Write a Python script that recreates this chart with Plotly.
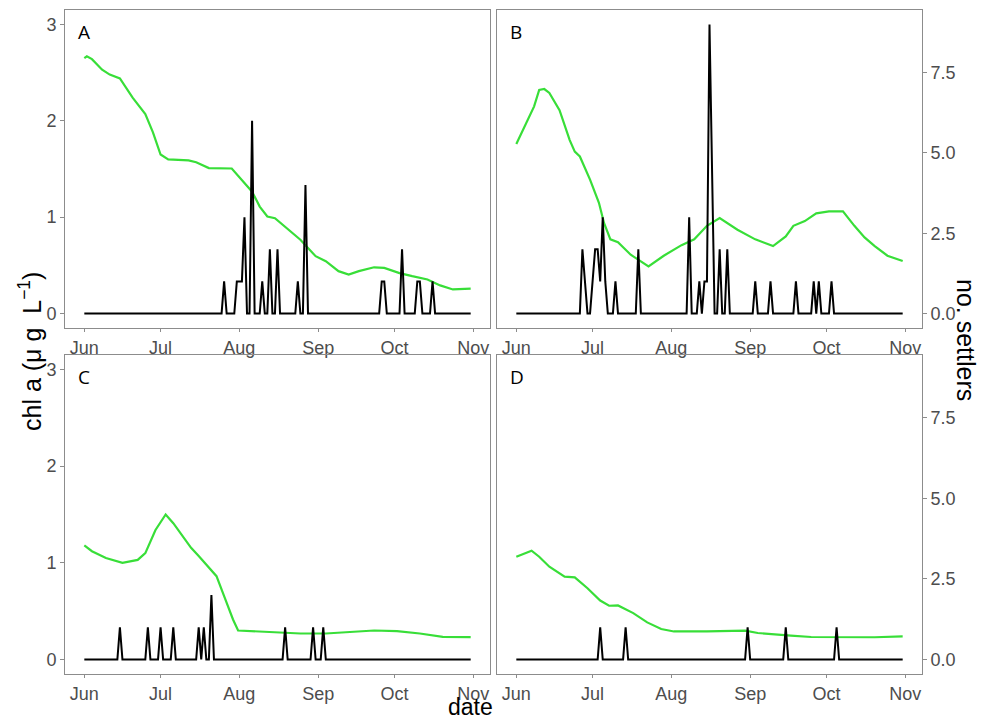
import pandas as pd
import plotly.graph_objects as go

# ---------------- data (day offset from 1 June) ----------------
BASE = pd.Timestamp("2017-06-01")
n_days = 153  # 1 Jun .. 31 Oct

chlA_day = [0, 1, 3, 7, 10, 14, 19, 24, 27, 30, 33, 41, 44, 49, 58, 62, 66, 69, 72, 75, 79, 85, 91, 95, 100, 104, 108, 114, 118, 124, 129, 135, 140, 145, 152]
chlA_val = [2.65, 2.67, 2.64, 2.53, 2.48, 2.44, 2.24, 2.07, 1.88, 1.65, 1.60, 1.59, 1.57, 1.51, 1.505, 1.385, 1.265, 1.11, 1.007, 0.99, 0.90, 0.766, 0.595, 0.543, 0.44, 0.405, 0.44, 0.48, 0.474, 0.42, 0.388, 0.354, 0.292, 0.25, 0.258]

chlB_day = [0, 4, 7, 9, 11, 13, 17, 21, 23, 25, 29, 32.5, 34.5, 37, 40, 45, 52, 58, 65, 70, 75, 80, 87, 94, 101, 106, 109, 113.5, 118, 123, 128.5, 133, 137, 141, 146, 152]
chlB_val = [1.76, 1.98, 2.15, 2.32, 2.33, 2.29, 2.11, 1.80, 1.68, 1.63, 1.39, 1.15, 0.94, 0.77, 0.74, 0.61, 0.49, 0.60, 0.71, 0.77, 0.91, 0.99, 0.87, 0.77, 0.70, 0.80, 0.91, 0.96, 1.04, 1.06, 1.06, 0.91, 0.79, 0.70, 0.60, 0.545]

chlC_day = [0, 3, 8.5, 15, 21, 24, 28, 32, 35, 39, 42, 45, 48.5, 52, 55, 58.5, 60.5, 66, 75, 85, 95, 106, 114, 123, 132, 141, 152]
chlC_val = [1.18, 1.12, 1.05, 1.00, 1.03, 1.10, 1.34, 1.50, 1.41, 1.26, 1.155, 1.07, 0.966, 0.862, 0.655, 0.414, 0.30, 0.293, 0.276, 0.269, 0.269, 0.286, 0.30, 0.293, 0.269, 0.234, 0.231]

chlD_day = [0, 3, 6, 9, 13, 19, 23, 28, 33, 36.5, 40, 46, 51.5, 57, 62, 75, 90, 95, 101.5, 108, 116, 128, 141, 152]
chlD_val = [1.063, 1.097, 1.125, 1.063, 0.96, 0.857, 0.85, 0.737, 0.61, 0.556, 0.559, 0.48, 0.384, 0.315, 0.29, 0.29, 0.298, 0.274, 0.257, 0.247, 0.233, 0.23, 0.23, 0.24]

# settler counts on the days where they were non-zero
setA_day = [55, 60, 61, 62, 63, 66, 70, 73, 76, 84, 87, 117, 118, 125, 131, 132, 137]
setA_n = [1, 1, 1, 1, 3, 6, 1, 2, 2, 1, 4, 1, 1, 2, 1, 1, 1]

setB_day = [26, 27, 30, 31, 32, 33, 34, 35, 39, 48, 68, 72, 74, 75, 76, 77, 80, 83, 94, 100, 110, 117, 119, 124]
setB_n = [2, 1, 1, 2, 2, 1, 3, 1, 1, 2, 3, 1, 1, 1, 9, 4, 2, 2, 1, 1, 1, 1, 1, 1]

setC_day = [14, 25, 30, 35, 45, 47, 50, 79, 90, 94]
setC_n = [1, 1, 1, 1, 1, 1, 2, 1, 1, 1]

setD_day = [33, 43, 91, 106, 126]
setD_n = [1, 1, 1, 1, 1]

panel_labels = ["A", "B", "C", "D"]
month_ticks = ["2017-06-01", "2017-07-01", "2017-08-01", "2017-09-01", "2017-10-01", "2017-11-01"]
month_text = ["Jun", "Jul", "Aug", "Sep", "Oct", "Nov"]
chl_ticks = [0, 1, 2, 3]
set_ticks = [0, 2.5, 5, 7.5]
set_ticktext = ["0.0", "2.5", "5.0", "7.5"]


def to_dates(days):
    return [BASE + pd.Timedelta(days=float(d)) for d in days]


def daily_counts(days, counts):
    series = [0] * n_days
    for d, c in zip(days, counts):
        series[d] = c
    return series


chl = [(chlA_day, chlA_val), (chlB_day, chlB_val), (chlC_day, chlC_val), (chlD_day, chlD_val)]
sett = [(setA_day, setA_n), (setB_day, setB_n), (setC_day, setC_n), (setD_day, setD_n)]
all_days = to_dates(range(n_days))

# ---------------- figure ----------------
# page body has an 8px margin, so the figure is drawn 8px smaller and offset
OX, OY = 8, 8
W, H = 990 - OX, 721 - OY
px_x = [(65, 490), (497, 922), (65, 490), (497, 922)]
px_y = [(10, 328), (10, 328), (355, 674), (355, 674)]


def fx(p):
    return (p - OX) / W


def fy(p):
    return 1 - (p - OY) / H


GREEN = "#38de38"
GREY_TXT = "#4d4d4d"
BORDER = "#8c8c8c"
FONT = "Liberation Sans, Arial, sans-serif"

fig = go.Figure()
layout = dict(
    width=W, height=H, margin=dict(l=0, r=0, t=0, b=0),
    paper_bgcolor="white", plot_bgcolor="white", showlegend=False,
    font=dict(family=FONT, color=GREY_TXT),
)
xrange = ["2017-05-24 09:36", "2017-11-07 14:24"]
annotations = []

for i in range(4):
    xn = "" if i == 0 else str(i + 1)
    yl = "" if i == 0 else str(2 * i + 1)
    yr = str(2 * i + 2)
    dom_x = [fx(px_x[i][0]), fx(px_x[i][1])]
    dom_y = [fy(px_y[i][1]), fy(px_y[i][0])]
    left_col = i in (0, 2)

    days, vals = chl[i]
    fig.add_trace(go.Scatter(x=to_dates(days), y=vals, mode="lines",
                             line=dict(color=GREEN, width=2.2),
                             xaxis="x" + xn, yaxis="y" + yl, hoverinfo="skip"))
    sd, sn = sett[i]
    fig.add_trace(go.Scatter(x=all_days, y=daily_counts(sd, sn), mode="lines",
                             line=dict(color="black", width=2),
                             xaxis="x" + xn, yaxis="y" + yr, hoverinfo="skip"))

    layout["xaxis" + xn] = dict(
        domain=dom_x, anchor="y" + yl, type="date", range=xrange,
        tickvals=month_ticks, ticktext=month_text, ticks="outside", ticklen=3,
        tickcolor=BORDER, tickfont=dict(size=18, color=GREY_TXT),
        showgrid=False, zeroline=False, showline=True, mirror=True,
        linecolor=BORDER, linewidth=1, automargin=False, fixedrange=True,
    )
    layout["yaxis" + yl] = dict(
        domain=dom_y, anchor="x" + xn, range=[-0.15, 3.15],
        tickvals=chl_ticks, ticks="outside" if left_col else "", ticklen=4,
        tickcolor=BORDER, showticklabels=left_col,
        tickfont=dict(size=18, color=GREY_TXT),
        showgrid=False, zeroline=False, showline=True, mirror=True,
        linecolor=BORDER, linewidth=1, automargin=False, fixedrange=True,
    )
    layout["yaxis" + yr] = dict(
        overlaying="y" + yl, anchor="x" + xn, side="right", range=[-0.45, 9.45],
        tickvals=set_ticks, ticktext=set_ticktext,
        ticks="" if left_col else "outside", ticklen=4, tickcolor=BORDER,
        showticklabels=not left_col, tickfont=dict(size=18, color=GREY_TXT),
        showgrid=False, zeroline=False, showline=False,
        automargin=False, fixedrange=True,
    )
    annotations.append(dict(
        text=panel_labels[i], xref="paper", yref="paper",
        x=fx(px_x[i][0] + 11), y=fy(px_y[i][0] + 22),
        xanchor="left", yanchor="middle", showarrow=False,
        font=dict(size=19, color="black", family="Open Sans, sans-serif"),
    ))

annotations += [
    dict(text="chl a (\u03bc\u00a0g\u00a0\u00a0L<sup>\u22121</sup>)", xref="paper", yref="paper",
         x=fx(30), y=fy(352), textangle=-90, showarrow=False,
         xanchor="center", yanchor="middle",
         font=dict(size=25, color="black", family=FONT)),
    dict(text="no. settlers", xref="paper", yref="paper",
         x=fx(966), y=fy(340), textangle=90, showarrow=False,
         xanchor="center", yanchor="middle",
         font=dict(size=25, color="black", family=FONT)),
    dict(text="date", xref="paper", yref="paper",
         x=fx(470), y=0, showarrow=False, borderpad=0,
         xanchor="center", yanchor="bottom",
         font=dict(size=23, color="black", family=FONT)),
]
layout["annotations"] = annotations
fig.update_layout(**layout)
fig.write_html("out.html")
